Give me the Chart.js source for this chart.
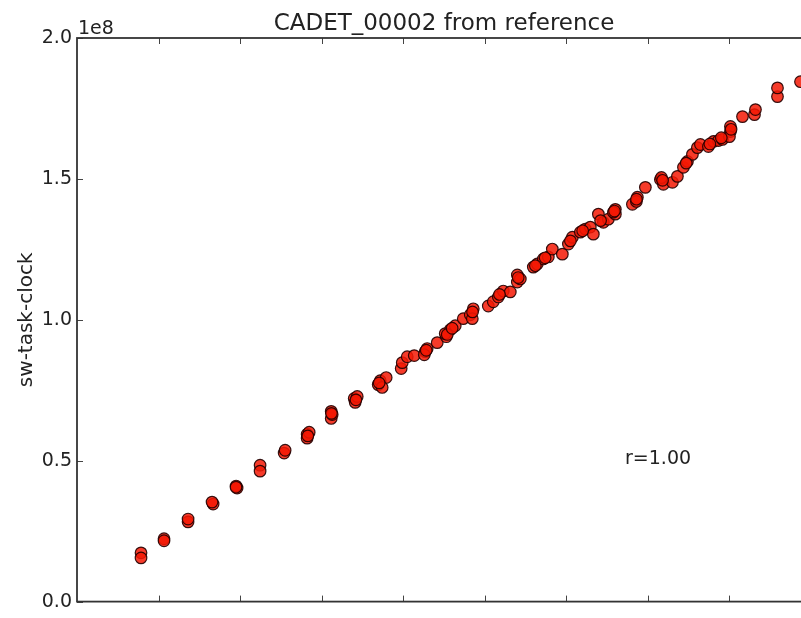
<!DOCTYPE html>
<html>
<head>
<meta charset="utf-8">
<script src="https://cdn.jsdelivr.net/npm/chart.js@4/dist/chart.umd.min.js"></script>
<style>
  html, body { margin: 0; padding: 0; background: #fff; overflow: hidden; }
  #wrap { width: 801px; height: 618px; overflow: hidden; }
  canvas { display: block; }
</style>
</head>
<body>
<div id="wrap"><canvas id="c" width="830" height="618" style="width:830px;height:618px"></canvas></div>
<script>
// ---- data (x in axis units, y in absolute counts) ----
const titleText = "CADET_00002 from reference";
const yAxisLabel = "sw-task-clock";
const annotationText = "r=1.00";
const annotationPos = { x: 6.72, y: 0.488e8 };
const yTickValues = [0, 0.5e8, 1.0e8, 1.5e8, 2.0e8];
const xTickValues = [1, 2, 3, 4, 5, 6, 7, 8];

const xs = [0.785,0.785,1.067,1.067,1.362,1.362,1.669,1.656,1.963,1.951,
  2.245,2.245,2.540,2.552,2.822,2.822,2.847,3.117,3.117,3.129,
  3.399,3.411,3.436,3.693,3.718,3.791,3.742,3.975,3.988,4.049,
  4.135,4.270,4.294,4.258,4.417,4.528,4.577,4.638,4.515,4.736,
  4.822,4.859,4.847,5.043,5.104,5.166,5.227,5.313,5.399,5.399,
  5.436,5.595,5.644,5.718,5.779,5.828,5.951,6.025,6.074,6.172,
  6.233,6.294,6.331,6.393,6.454,6.515,6.601,6.601,6.577,6.810,
  6.871,6.859,6.969,7.153,7.190,7.166,7.301,7.362,7.436,7.485,
  7.546,7.607,7.644,7.742,7.804,7.865,7.914,8.012,8.012,8.000,
  8.160,8.307,8.319,8.589,8.589,8.871,
  3.705,4.282,4.540,4.600,4.850,5.180,5.410,5.620,5.740,6.050,
  6.200,6.420,6.590,6.860,7.180,7.470,7.760,7.900,8.020,1.950,
  2.830,3.120,3.420];
const ys = [0.173,0.155,0.223,0.216,0.283,0.293,0.346,0.353,0.403,0.410,
  0.484,0.463,0.527,0.537,0.594,0.580,0.601,0.675,0.650,0.664,
  0.721,0.707,0.728,0.770,0.784,0.795,0.760,0.827,0.848,0.869,
  0.873,0.887,0.898,0.876,0.919,0.940,0.965,0.979,0.951,1.004,
  1.018,1.039,1.004,1.049,1.064,1.081,1.102,1.099,1.134,1.159,
  1.145,1.187,1.198,1.216,1.223,1.251,1.233,1.269,1.293,1.311,
  1.322,1.329,1.304,1.375,1.346,1.357,1.375,1.392,1.382,1.410,
  1.435,1.420,1.470,1.498,1.481,1.505,1.488,1.509,1.541,1.562,
  1.587,1.611,1.622,1.615,1.633,1.636,1.640,1.668,1.686,1.650,
  1.721,1.728,1.746,1.792,1.823,1.845,
  0.776,0.892,0.948,0.970,1.028,1.090,1.150,1.192,1.220,1.280,
  1.316,1.352,1.386,1.428,1.495,1.556,1.624,1.646,1.676,0.406,
  0.588,0.668,0.716].map(v => v * 1e8);

const FONT = "'DejaVu Sans', sans-serif";
const TXT = '#222';

const framePlugin = {
  id: 'frame',
  afterDraw(chart) {
    const ctx = chart.ctx;
    const a = chart.chartArea;
    const xs_ = chart.scales.x, ys_ = chart.scales.y;
    ctx.save();
    ctx.strokeStyle = '#444';
    ctx.lineWidth = 1;
    const L = 6;
    ctx.beginPath();
    xTickValues.forEach(v => {
      const px = Math.round(xs_.getPixelForValue(v)) + 0.5;
      ctx.moveTo(px, a.bottom); ctx.lineTo(px, a.bottom - L);
      ctx.moveTo(px, a.top); ctx.lineTo(px, a.top + L);
    });
    yTickValues.forEach(v => {
      const py = Math.round(ys_.getPixelForValue(v)) + 0.5;
      ctx.moveTo(a.left, py); ctx.lineTo(a.left + L, py);
      ctx.moveTo(a.right, py); ctx.lineTo(a.right - L, py);
    });
    ctx.stroke();
    ctx.strokeStyle = '#333';
    ctx.lineWidth = 1.8;
    ctx.strokeRect(a.left, a.top, a.right - a.left, a.bottom - a.top);
    ctx.fillStyle = TXT;
    ctx.textBaseline = 'alphabetic';
    ctx.font = '23px ' + FONT;
    ctx.textAlign = 'center';
    ctx.fillText(titleText, (a.left + a.right) / 2, 30);
    ctx.font = '19px ' + FONT;
    ctx.textAlign = 'left';
    ctx.fillText('1e8', a.left + 1, 34);
    ctx.fillText(annotationText, xs_.getPixelForValue(annotationPos.x), ys_.getPixelForValue(annotationPos.y));
    ctx.restore();
  }
};

new Chart(document.getElementById('c'), {
  type: 'scatter',
  data: {
    datasets: [{
      data: xs.map((x, i) => ({ x: x, y: ys[i] })),
      backgroundColor: 'rgba(245,25,5,0.85)',
      borderColor: 'rgba(35,0,0,0.9)',
      borderWidth: 1.2,
      pointRadius: 5.8,
      pointHoverRadius: 5.8
    }]
  },
  options: {
    responsive: false,
    animation: false,
    devicePixelRatio: 1,
    layout: { padding: { top: 38, right: 19, left: 0, bottom: 0 } },
    plugins: { legend: { display: false }, title: { display: false }, tooltip: { enabled: false } },
    scales: {
      x: {
        type: 'linear', min: 0, max: 9,
        ticks: { display: false, stepSize: 1 },
        grid: { display: false, drawTicks: false },
        border: { display: false },
        afterFit(s) { s.height = 14; }
      },
      y: {
        type: 'linear', min: 0, max: 2e8,
        afterBuildTicks(s) { s.ticks = yTickValues.map(v => ({ value: v })); },
        ticks: {
          callback: v => (v / 1e8).toFixed(1),
          font: { family: FONT, size: 19 },
          color: TXT,
          padding: 5
        },
        grid: { display: false, drawTicks: false },
        border: { display: false },
        title: {
          display: true, text: yAxisLabel,
          font: { family: FONT, size: 20 }, color: TXT,
          padding: { top: 15, bottom: 0 }
        },
        afterFit(s) { s.width = 77; }
      }
    }
  },
  plugins: [framePlugin]
});
</script>
</body>
</html>
